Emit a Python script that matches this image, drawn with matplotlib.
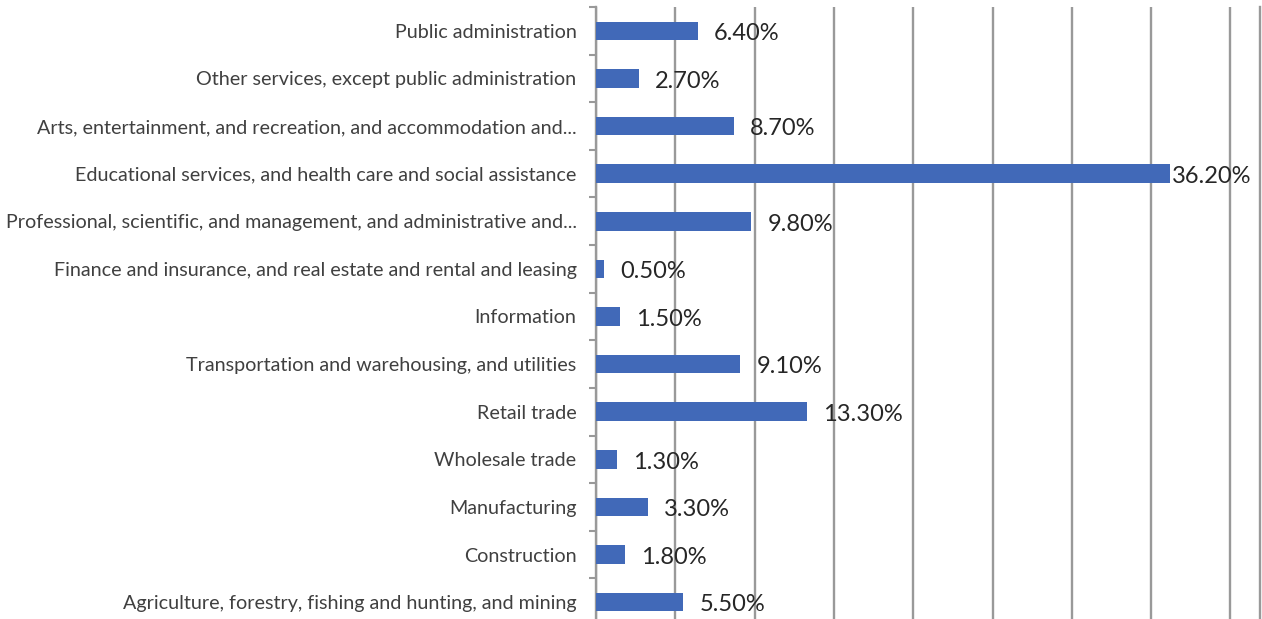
import matplotlib.pyplot as plt
import numpy as np

# industry categories, bottom to top as drawn
categories = [
    "Agriculture, forestry, fishing and hunting, and mining",
    "Construction",
    "Manufacturing",
    "Wholesale trade",
    "Retail trade",
    "Transportation and warehousing, and utilities",
    "Information",
    "Finance and insurance, and real estate and rental and leasing",
    "Professional, scientific, and management, and administrative and...",
    "Educational services, and health care and social assistance",
    "Arts, entertainment, and recreation, and accommodation and...",
    "Other services, except public administration",
    "Public administration",
]
values = [5.5, 1.8, 3.3, 1.3, 13.3, 9.1, 1.5, 0.5, 9.8, 36.2, 8.7, 2.7, 6.4]

plt.rcParams['font.family'] = ['Lato', 'DejaVu Sans']

fig = plt.figure(figsize=(12.62, 6.19), dpi=100)
ax = fig.add_axes([596/1262, -7/619, 664/1262, 619/619])

y = np.arange(len(categories))
ax.barh(y, values, height=0.39, color="#4169b8", zorder=3)

xmax = 664 / 79.3 * 5
ax.set_xlim(0, xmax)
ax.set_ylim(-0.5, len(categories) - 0.5)

ax.set_xticks(np.arange(0, 45, 5))
ax.xaxis.grid(True, color="#999999", linewidth=1.7, zorder=0)
ax.tick_params(axis="x", bottom=False, labelbottom=False)

ax.set_yticks(y)
ax.set_yticklabels(categories, fontsize=14.2, color="#404040")
ax.set_yticks(np.arange(-0.5, len(categories), 1), minor=True)
ax.tick_params(axis="y", which="major", length=0, pad=14)
ax.tick_params(axis="y", which="minor", length=5, width=1.5, color="#999999")

for s in ["top", "bottom"]:
    ax.spines[s].set_visible(False)
ax.spines["left"].set_color("#999999")
ax.spines["left"].set_linewidth(1.7)
ax.spines["right"].set_color("#999999")
ax.spines["right"].set_linewidth(1.7)

for yi, v in zip(y, values):
    pad = 2 if v > 30 else 16
    ax.annotate(f"{v:.2f}%", (v, yi), xytext=(pad * 0.72, -2), textcoords="offset points",
                ha="left", va="center", fontsize=17, color="#262626", zorder=4)

fig.savefig("out.png", dpi=100)
